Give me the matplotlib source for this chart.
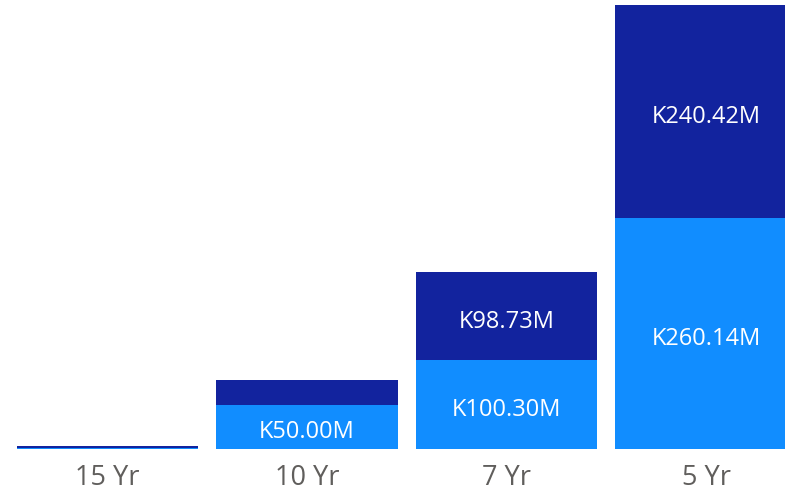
import numpy as np
import matplotlib.pyplot as plt

plt.rcParams['font.family'] = ['Open Sans', 'DejaVu Sans']

# data (millions)
terms = ['15 Yr', '10 Yr', '7 Yr', '5 Yr']
lower = [1.5, 50.00, 100.30, 260.14]
upper = [1.5, 28.0, 98.73, 240.42]
show_upper = [False, False, True, True]
show_lower = [False, True, True, True]

light = '#118DFF'
dark = '#12239E'

fig = plt.figure(figsize=(7.85, 4.91), dpi=100)
ax = fig.add_axes([0, 42 / 491, 1, 449 / 491])

x = np.arange(len(terms))
w = 0.91
ax.bar(x, lower, width=w, color=light)
ax.bar(x, upper, width=w, bottom=lower, color=dark)

# data labels, nudged down a bit to sit like the original
for i in range(len(terms)):
    if show_lower[i]:
        ax.annotate('K%.2fM' % lower[i], (x[i], lower[i] / 2), xytext=(0, -4),
                    textcoords='offset points', ha='center', va='center',
                    color='white', fontsize=17)
    if show_upper[i]:
        ax.annotate('K%.2fM' % upper[i], (x[i], lower[i] + upper[i] / 2), xytext=(0, -4),
                    textcoords='offset points', ha='center', va='center',
                    color='white', fontsize=17)

ax.set_xlim(-0.539, 3.396)
ax.set_ylim(0, 506)
ax.set_xticks(x)
ax.set_xticklabels(terms, fontsize=19.5, color='#605E5C')
ax.tick_params(axis='x', length=0, pad=11)
ax.set_yticks([])
for s in ax.spines.values():
    s.set_visible(False)

fig.savefig('out.png', dpi=100)
